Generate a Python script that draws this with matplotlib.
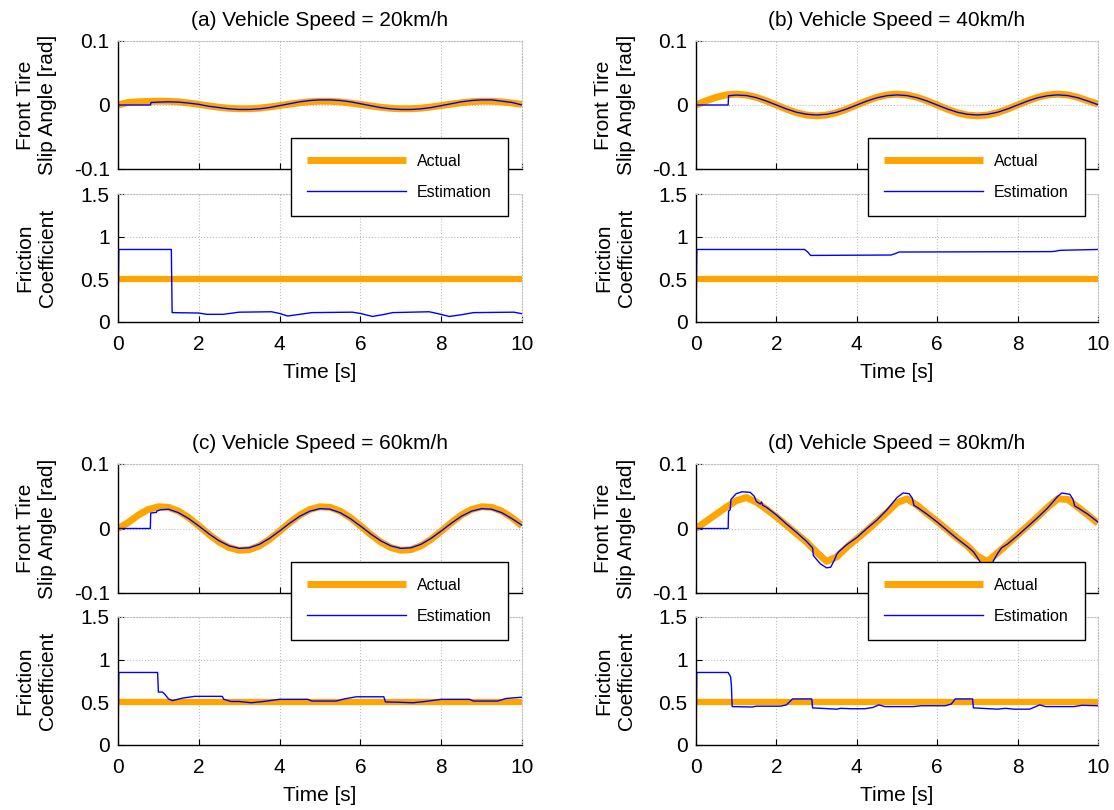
import matplotlib
matplotlib.use("Agg")
import matplotlib.pyplot as plt

plt.rcParams['font.family'] = ['Liberation Sans', 'DejaVu Sans']

# ---------------- data ----------------
titles = ["(a) Vehicle Speed = 20km/h", "(b) Vehicle Speed = 40km/h",
          "(c) Vehicle Speed = 60km/h", "(d) Vehicle Speed = 80km/h"]

t_act = [0, 0.25, 0.5, 0.75, 1.0, 1.25, 1.5, 1.75, 2.0, 2.25, 2.5, 2.75, 3.0, 3.25, 3.5, 3.75,
         4.0, 4.25, 4.5, 4.75, 5.0, 5.25, 5.5, 5.75, 6.0, 6.25, 6.5, 6.75, 7.0, 7.25, 7.5, 7.75,
         8.0, 8.25, 8.5, 8.75, 9.0, 9.25, 9.5, 9.75, 10.0]

slip_act_a = [0, 0.004, 0.005, 0.0055, 0.006, 0.0058, 0.0049, 0.0031, 0.0009, -0.0014, -0.0035,
              -0.0051, -0.0059, -0.0058, -0.0049, -0.0031, -0.0009, 0.0014, 0.0035, 0.0051, 0.0059,
              0.0058, 0.0049, 0.0031, 0.0009, -0.0014, -0.0035, -0.0051, -0.0059, -0.0058, -0.0049,
              -0.0031, -0.0009, 0.0014, 0.0035, 0.0051, 0.0059, 0.0058, 0.0049, 0.0031, 0.0009]
slip_act_b = [0, 0.0065, 0.012, 0.0157, 0.017, 0.0157, 0.012, 0.0065, 0.0, -0.0065, -0.012,
              -0.0157, -0.017, -0.0157, -0.012, -0.0065, 0.0, 0.0065, 0.012, 0.0157, 0.017,
              0.0157, 0.012, 0.0065, 0.0, -0.0065, -0.012, -0.0157, -0.017, -0.0157, -0.012,
              -0.0065, 0.0, 0.0065, 0.012, 0.0157, 0.017, 0.0157, 0.012, 0.0065, 0.0015]
slip_act_c = [0, 0.009, 0.0208, 0.0295, 0.0337, 0.0328, 0.0269, 0.0168, 0.0043, -0.009, -0.0208,
              -0.0295, -0.0337, -0.0328, -0.0269, -0.0168, -0.0043, 0.009, 0.0208, 0.0295, 0.0337,
              0.0328, 0.0269, 0.0168, 0.0043, -0.009, -0.0208, -0.0295, -0.0337, -0.0328, -0.0269,
              -0.0168, -0.0043, 0.009, 0.0208, 0.0295, 0.0337, 0.0328, 0.0269, 0.0168, 0.0043]
slip_act_d = [0, 0.011, 0.022, 0.033, 0.043, 0.048, 0.041, 0.030, 0.018, 0.005, -0.008,
              -0.021, -0.037, -0.051, -0.044, -0.029, -0.016, -0.003, 0.011, 0.025, 0.040,
              0.046, 0.036, 0.023, 0.011, -0.002, -0.015, -0.027, -0.043, -0.051, -0.038,
              -0.024, -0.010, 0.004, 0.018, 0.033, 0.046, 0.045, 0.033, 0.021, 0.008]

t_est_a = [0, 0.8, 0.82, 1.0, 1.25, 1.5, 1.75, 2.0, 2.25, 2.5, 2.75, 3.0, 3.25, 3.5, 3.75, 4.0,
           4.25, 4.5, 4.75, 5.0, 5.25, 5.5, 5.75, 6.0, 6.25, 6.5, 6.75, 7.0, 7.25, 7.5, 7.75, 8.0,
           8.25, 8.5, 8.75, 9.0, 9.25, 9.5, 9.75, 10.0]
slip_est_a = [0, 0, 0.004, 0.0045, 0.005, 0.0045, 0.003, 0.001, -0.002, -0.004, -0.006, -0.007,
              -0.007, -0.006, -0.004, -0.001, 0.002, 0.005, 0.007, 0.008, 0.008, 0.007, 0.005,
              0.002, -0.001, -0.004, -0.006, -0.007, -0.007, -0.006, -0.004, -0.001, 0.002,
              0.005, 0.007, 0.008, 0.008, 0.006, 0.004, 0.0]

t_est_b = [0, 0.8, 0.81, 1.0, 1.25, 1.5, 1.75, 2.0, 2.25, 2.5, 2.75, 3.0, 3.25, 3.5, 3.75, 4.0,
           4.25, 4.5, 4.75, 5.0, 5.25, 5.5, 5.75, 6.0, 6.25, 6.5, 6.75, 7.0, 7.25, 7.5, 7.75, 8.0,
           8.25, 8.5, 8.75, 9.0, 9.25, 9.5, 9.75, 10.0]
slip_est_b = [0, 0, 0.0145, 0.0155, 0.0148, 0.0115, 0.0062, 0.0, -0.0062, -0.0113, -0.0145,
              -0.0156, -0.0145, -0.0113, -0.0062, 0.0, 0.0062, 0.0113, 0.0145, 0.0158, 0.0147,
              0.0113, 0.0062, 0.0, -0.0062, -0.0113, -0.0145, -0.0156, -0.0145, -0.0113, -0.0062,
              0.0, 0.0062, 0.0113, 0.0145, 0.0158, 0.0147, 0.0113, 0.0062, 0.0005]

t_est_c = [0, 0.8, 0.81, 0.95, 0.96, 1.05, 1.25, 1.5, 1.75, 2.0, 2.25, 2.5, 2.75, 3.0, 3.25,
           3.5, 3.75, 4.0, 4.25, 4.5, 4.75, 5.0, 5.25, 5.5, 5.75, 6.0, 6.25, 6.5, 6.75, 7.0, 7.25,
           7.5, 7.75, 8.0, 8.25, 8.5, 8.75, 9.0, 9.25, 9.5, 9.75, 10.0]
slip_est_c = [0, 0, 0.024, 0.025, 0.027, 0.029, 0.0299, 0.0245, 0.0153, 0.0039, -0.0082, -0.019,
              -0.0269, -0.0308, -0.0299, -0.0245, -0.0153, -0.0039, 0.0082, 0.019, 0.0269,
              0.0308, 0.0299, 0.0245, 0.0153, 0.0039, -0.0082, -0.019, -0.0269, -0.0308, -0.0299,
              -0.0245, -0.0153, -0.0039, 0.0082, 0.019, 0.0269, 0.0308, 0.0299, 0.0245, 0.0153,
              0.005]

t_est_d = [0, 0.8, 0.81, 0.85, 0.87, 1.0, 1.15, 1.35, 1.45, 1.5, 1.6, 1.63, 1.66, 1.75, 2.0,
           2.25, 2.5, 2.75, 2.9, 2.92, 3.0, 3.1, 3.25, 3.35, 3.45, 3.5, 3.55, 3.75, 4.0, 4.25,
           4.5, 4.75, 5.0, 5.15, 5.3, 5.38, 5.42, 5.5, 5.75, 6.0, 6.25, 6.5, 6.75, 6.9, 7.0, 7.1,
           7.25, 7.35, 7.4, 7.5, 7.6, 7.75, 8.0, 8.25, 8.5, 8.75, 9.0, 9.1, 9.3, 9.38, 9.42, 9.5,
           9.75, 10.0]
slip_est_d = [0, 0, 0.027, 0.029, 0.045, 0.054, 0.057, 0.056, 0.05, 0.042, 0.038, 0.041, 0.036,
              0.033, 0.021, 0.007, -0.006, -0.02, -0.03, -0.042, -0.048, -0.055, -0.061, -0.06,
              -0.048, -0.04, -0.036, -0.025, -0.014, 0.0, 0.013, 0.029, 0.048, 0.055, 0.054,
              0.047, 0.036, 0.033, 0.022, 0.01, -0.003, -0.016, -0.028, -0.036, -0.045, -0.055,
              -0.062, -0.06, -0.05, -0.039, -0.03, -0.024, -0.011, 0.003, 0.017, 0.032, 0.05,
              0.055, 0.053, 0.045, 0.035, 0.032, 0.022, 0.01]

t_mu_act = [0, 10]
mu_act = [0.5, 0.5]

t_mu_a = [0, 0.01, 0.02, 1.32, 1.34, 2.0, 2.2, 2.6, 3.0, 3.8, 4.0, 4.2, 4.5, 4.8, 5.8, 6.0, 6.3,
          6.6, 6.8, 7.7, 7.9, 8.2, 8.5, 8.8, 9.8, 10.0]
mu_est_a = [0, 0.45, 0.85, 0.85, 0.11, 0.105, 0.09, 0.09, 0.115, 0.12, 0.1, 0.07, 0.09, 0.11,
            0.115, 0.1, 0.065, 0.09, 0.11, 0.12, 0.1, 0.065, 0.085, 0.11, 0.115, 0.097]

t_mu_b = [0, 0.02, 2.7, 2.78, 2.85, 4.85, 4.95, 5.05, 8.85, 8.95, 9.05, 10.0]
mu_est_b = [0, 0.85, 0.85, 0.82, 0.78, 0.785, 0.8, 0.82, 0.825, 0.83, 0.84, 0.85]

t_mu_c = [0, 0.02, 0.98, 1.0, 1.1, 1.15, 1.25, 1.35, 1.6, 1.9, 2.58, 2.62, 2.8, 3.0, 3.3, 3.6,
          4.0, 4.7, 4.8, 5.4, 5.6, 5.9, 6.58, 6.62, 7.0, 7.3, 7.6, 8.0, 8.7, 8.8, 9.4, 9.6, 10.0]
mu_est_c = [0, 0.85, 0.85, 0.62, 0.62, 0.6, 0.54, 0.52, 0.55, 0.57, 0.57, 0.535, 0.51, 0.51,
            0.495, 0.51, 0.535, 0.535, 0.515, 0.515, 0.54, 0.565, 0.565, 0.505, 0.5, 0.495,
            0.51, 0.535, 0.535, 0.515, 0.515, 0.545, 0.56]

t_mu_d = [0, 0.02, 0.8, 0.86, 0.88, 0.9, 1.4, 1.5, 2.1, 2.25, 2.4, 2.88, 2.9, 3.5, 3.6, 3.85,
          4.2, 4.4, 4.55, 4.7, 5.4, 5.6, 6.2, 6.35, 6.45, 6.88, 6.9, 7.5, 7.6, 7.7, 7.9, 8.3,
          8.45, 8.55, 8.7, 9.4, 9.6, 10.0]
mu_est_d = [0, 0.85, 0.85, 0.8, 0.7, 0.45, 0.445, 0.455, 0.455, 0.47, 0.54, 0.54, 0.435, 0.42,
            0.43, 0.425, 0.425, 0.44, 0.47, 0.45, 0.45, 0.46, 0.46, 0.48, 0.54, 0.54, 0.435,
            0.42, 0.425, 0.43, 0.42, 0.42, 0.45, 0.47, 0.45, 0.45, 0.465, 0.46]

slip_act = [slip_act_a, slip_act_b, slip_act_c, slip_act_d]
t_est = [t_est_a, t_est_b, t_est_c, t_est_d]
slip_est = [slip_est_a, slip_est_b, slip_est_c, slip_est_d]
t_mu = [t_mu_a, t_mu_b, t_mu_c, t_mu_d]
mu_est = [mu_est_a, mu_est_b, mu_est_c, mu_est_d]

x_ticks = [0, 2, 4, 6, 8, 10]
slip_ticks = [-0.1, 0, 0.1]
slip_ticklabels = ["-0.1", "0", "0.1"]
mu_ticks = [0, 0.5, 1, 1.5]
mu_ticklabels = ["0", "0.5", "1", "1.5"]

# ---------------- layout ----------------
W, H = 1114, 810
fig = plt.figure(figsize=(W / 100, H / 100), dpi=100)

ORANGE = "#FFA500"
BLUE = "#0000FF"
FS = 15

col_x = [(118, 522), (696, 1098)]
row_y = [((41, 169), (194, 322)), ((464, 593), (617, 745))]


def fig_rect(x0, x1, y0, y1):
    return [x0 / W, 1 - y1 / H, (x1 - x0) / W, (y1 - y0) / H]


def style(ax):
    ax.set_xlim(0, 10)
    ax.set_xticks(x_ticks)
    ax.grid(True, color="#bdbdbd", linestyle=":", linewidth=0.8)
    for s in ["top", "right"]:
        ax.spines[s].set_color("#bdbdbd")
        ax.spines[s].set_linestyle(":")
        ax.spines[s].set_linewidth(0.8)
    for s in ["left", "bottom"]:
        ax.spines[s].set_linewidth(1.0)
    ax.tick_params(direction="in", length=4, width=0.8, labelsize=FS,
                   top=False, right=False)
    ax.tick_params(axis="y", pad=6)
    ax.tick_params(axis="x", pad=9.5)
    ax.set_axisbelow(True)


for i in range(4):
    r, c = divmod(i, 2)
    x0, x1 = col_x[c]
    (uy0, uy1), (ly0, ly1) = row_y[r]
    ax_u = fig.add_axes(fig_rect(x0, x1, uy0, uy1))
    ax_l = fig.add_axes(fig_rect(x0, x1, ly0, ly1))
    ax_u.set_zorder(3)

    style(ax_u)
    ax_u.plot(t_act, slip_act[i], color=ORANGE, linewidth=5, label="Actual",
              solid_capstyle="butt")
    ax_u.plot(t_est[i], slip_est[i], color=BLUE, linewidth=1.0, label="Estimation")
    ax_u.set_ylim(-0.1, 0.1)
    ax_u.set_yticks(slip_ticks)
    ax_u.set_yticklabels(slip_ticklabels)
    ax_u.set_xticklabels([])
    ax_u.set_ylabel("Front Tire\nSlip Angle [rad]", fontsize=FS, linespacing=1.25)
    ax_u.yaxis.set_label_coords(-0.15, 0.5)
    ax_u.set_title(titles[i], fontsize=FS, pad=11)

    style(ax_l)
    ax_l.plot(t_mu_act, mu_act, color=ORANGE, linewidth=4.5, solid_capstyle="butt")
    ax_l.plot(t_mu[i], mu_est[i], color=BLUE, linewidth=1.0)
    ax_l.set_ylim(0, 1.5)
    ax_l.set_yticks(mu_ticks)
    ax_l.set_yticklabels(mu_ticklabels)
    ax_l.set_xticklabels([str(v) for v in x_ticks])
    ax_l.set_ylabel("Friction\nCoefficient", fontsize=FS, linespacing=1.25)
    ax_l.yaxis.set_label_coords(-0.15, 0.5)
    ax_l.set_xlabel("Time [s]", fontsize=FS, labelpad=6)

    leg = ax_u.legend(loc="upper left", bbox_to_anchor=(0.428, 0.242), borderaxespad=0,
                      fontsize=11.5, handlelength=6.2, handletextpad=0.7, borderpad=1.0,
                      labelspacing=1.0, fancybox=False, framealpha=1, edgecolor="black")
    leg.get_frame().set_linewidth(1.0)

fig.savefig("out.png", dpi=100)
